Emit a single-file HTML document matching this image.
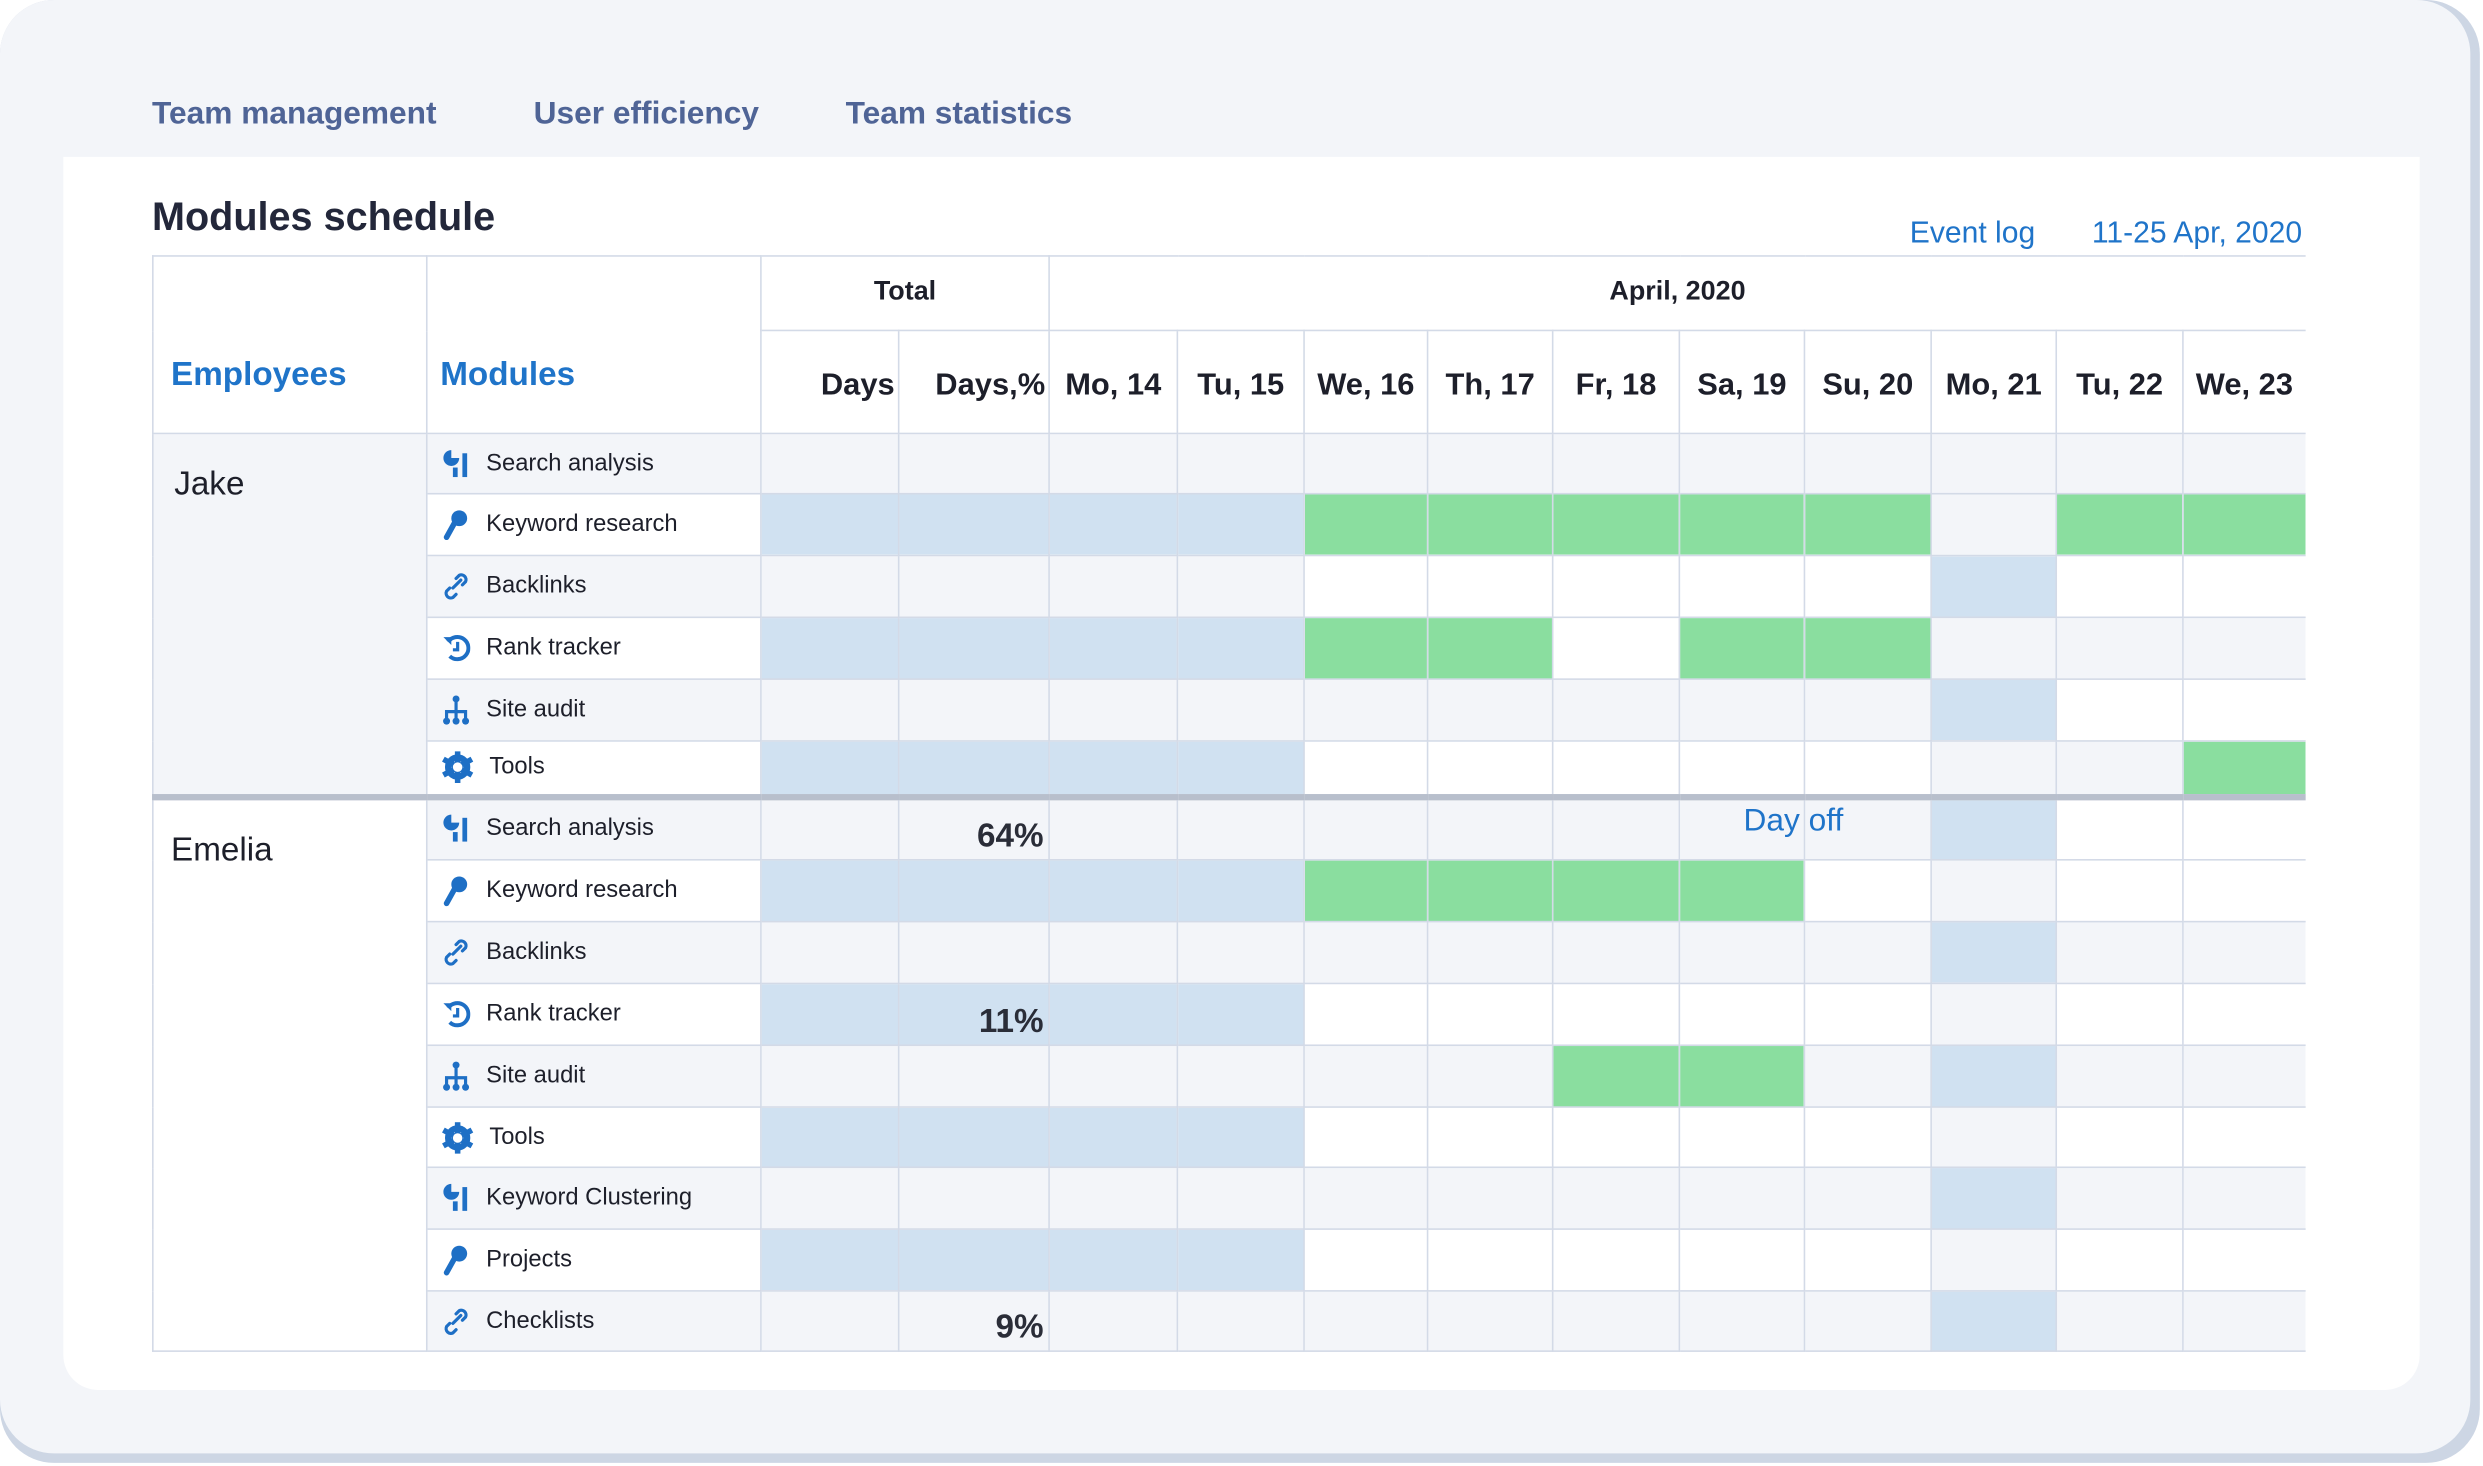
<!DOCTYPE html>
<html><head><meta charset="utf-8"><style>
html,body{margin:0;padding:0;background:#fff;}
body{width:2483px;height:1466px;overflow:hidden;font-family:"Liberation Sans",sans-serif;}
#s{position:absolute;left:0;top:0;width:1568px;height:925px;transform:scale(1.58355,1.5849);transform-origin:0 0;}
.outer{position:absolute;left:0;top:0;width:1566px;height:923px;border-radius:34px;background:#cdd6e4;}
.card{position:absolute;left:0;top:0;width:1560px;height:917px;border-radius:34px;background:#f3f5f9;}
.panel{position:absolute;left:40px;top:99px;width:1488px;height:778px;background:#fff;border-radius:0 0 22px 22px;}
.tab{position:absolute;top:61px;font-size:20px;color:#4f6496;font-weight:bold;}
.title{position:absolute;left:96px;top:123px;font-size:25px;color:#23273a;font-weight:bold;}
.lnk{position:absolute;top:137px;font-size:19px;color:#1f74c9;}
table{position:absolute;left:96px;top:161px;border-collapse:collapse;table-layout:fixed;width:1359px;}
td{border:1px solid #d3dae7;padding:0;font-size:15px;color:#1d1f2a;overflow:hidden;white-space:nowrap;}
.g{background:#f3f5f9}.b{background:#d0e1f1}.G{background:#8ade9f}.w{background:#fff}
.hd{font-size:19.5px;font-weight:bold;text-align:center;vertical-align:bottom;padding-bottom:18px;}
.m{padding-left:9px;}
.m svg{vertical-align:middle;margin-right:10px;}
.p{text-align:right;font-size:21px;font-weight:bold;color:#2a2d38;padding-right:3px;vertical-align:bottom;padding-bottom:2px}
.sep td{border-top:4px solid #b8bfcc;}
</style></head><body><div id="s">
<div class="outer"></div><div class="card"></div>
<div class="panel"></div>
<div class="tab" style="left:96px">Team management</div>
<div class="tab" style="left:337px">User efficiency</div>
<div class="tab" style="left:534px">Team statistics</div>
<div class="title">Modules schedule</div>
<div class="lnk" style="left:1206px">Event log</div>
<div class="lnk" style="left:1321px">11-25 Apr, 2020</div>
<table>
<colgroup><col style="width:173px"><col style="width:211px"><col style="width:87px"><col style="width:95px"><col style="width:81px"><col style="width:80px"><col style="width:78px"><col style="width:79px"><col style="width:80px"><col style="width:79px"><col style="width:80px"><col style="width:79px"><col style="width:80px"><col style="width:77px"></colgroup>
<tr style="height:47px"><td rowspan="2" class="w" style="vertical-align:bottom;padding:0 0 24px 11px;font-size:21px;font-weight:bold;color:#1f74c9">Employees</td><td rowspan="2" class="w" style="vertical-align:bottom;padding:0 0 24px 8px;font-size:21px;font-weight:bold;color:#1f74c9">Modules</td><td colspan="2" class="w" style="text-align:center;font-size:17px;font-weight:bold;padding-bottom:2px">Total</td><td colspan="10" class="w" style="text-align:center;font-size:17px;font-weight:bold;border-right:none;padding-bottom:2px">April, 2020</td></tr>
<tr style="height:65px"><td class="w hd" style="text-align:right;padding-right:2px">Days</td><td class="w hd" style="text-align:right;padding-right:2px">Days,%</td><td class="w hd">Mo, 14</td><td class="w hd">Tu, 15</td><td class="w hd">We, 16</td><td class="w hd">Th, 17</td><td class="w hd">Fr, 18</td><td class="w hd">Sa, 19</td><td class="w hd">Su, 20</td><td class="w hd">Mo, 21</td><td class="w hd">Tu, 22</td><td class="w hd" style="border-right:none">We, 23</td></tr>

<tr style="height:38px"><td rowspan="6" class="g" style="vertical-align:top;padding:20px 0 0 13px;font-size:21px">Jake</td><td class="g m"><svg width="18" height="20" viewBox="0 0 18 20"><path d="M6 1a5 5 0 1 0 5 5H6z" fill="#1e6fc5"/><rect x="7" y="12" width="3" height="6" fill="#1e6fc5"/><rect x="13" y="3" width="3" height="15" fill="#1e6fc5"/></svg>Search analysis</td><td class="g"></td><td class="g"></td><td class="g"></td><td class="g"></td><td class="g"></td><td class="g"></td><td class="g"></td><td class="g"></td><td class="g"></td><td class="g"></td><td class="g"></td><td class="g" style="border-right:none"></td></tr>
<tr style="height:39px"><td class="w m"><svg width="18" height="20" viewBox="0 0 18 20"><circle cx="11" cy="6" r="5" fill="#1e6fc5"/><path d="M8 9L3 18" stroke="#1e6fc5" stroke-width="3.5" stroke-linecap="round"/></svg>Keyword research</td><td class="b"></td><td class="b"></td><td class="b"></td><td class="b"></td><td class="G"></td><td class="G"></td><td class="G"></td><td class="G"></td><td class="G"></td><td class="g"></td><td class="G"></td><td class="G" style="border-right:none"></td></tr>
<tr style="height:39px"><td class="g m"><svg width="18" height="20" viewBox="0 0 18 20"><path d="M7 11l5-5M9 5l2-2a3 3 0 0 1 4 4l-2 2M9 15l-2 2a3 3 0 0 1-4-4l2-2" stroke="#1e6fc5" stroke-width="2" fill="none" stroke-linecap="round"/></svg>Backlinks</td><td class="g"></td><td class="g"></td><td class="g"></td><td class="g"></td><td class="w"></td><td class="w"></td><td class="w"></td><td class="w"></td><td class="w"></td><td class="b"></td><td class="w"></td><td class="w" style="border-right:none"></td></tr>
<tr style="height:39px"><td class="w m"><svg width="18" height="20" viewBox="0 0 18 20"><path d="M4 6a7 7 0 1 1 1 9" stroke="#1e6fc5" stroke-width="2.5" fill="none"/><path d="M1 3l5 0 0 5z" fill="#1e6fc5"/><path d="M10 6v5H7" stroke="#1e6fc5" stroke-width="2" fill="none"/></svg>Rank tracker</td><td class="b"></td><td class="b"></td><td class="b"></td><td class="b"></td><td class="G"></td><td class="G"></td><td class="w"></td><td class="G"></td><td class="G"></td><td class="g"></td><td class="g"></td><td class="g" style="border-right:none"></td></tr>
<tr style="height:39px"><td class="g m"><svg width="18" height="20" viewBox="0 0 18 20"><circle cx="9" cy="3" r="2.2" fill="#1e6fc5"/><path d="M9 3v13M3 16v-5h12v5" stroke="#1e6fc5" stroke-width="2" fill="none"/><circle cx="3" cy="17" r="2.2" fill="#1e6fc5"/><circle cx="9" cy="17" r="2.2" fill="#1e6fc5"/><circle cx="15" cy="17" r="2.2" fill="#1e6fc5"/></svg>Site audit</td><td class="g"></td><td class="g"></td><td class="g"></td><td class="g"></td><td class="g"></td><td class="g"></td><td class="g"></td><td class="g"></td><td class="g"></td><td class="b"></td><td class="w"></td><td class="w" style="border-right:none"></td></tr>
<tr style="height:35px"><td class="w m"><svg width="20" height="20" viewBox="0 0 20 20"><circle cx="10" cy="10" r="6" fill="none" stroke="#1e6fc5" stroke-width="4"/><path d="M10 0v20M1 5l18 10M1 15l18-10" stroke="#1e6fc5" stroke-width="3.5"/><circle cx="10" cy="10" r="3" fill="#fff"/></svg>Tools</td><td class="b"></td><td class="b"></td><td class="b"></td><td class="b"></td><td class="w"></td><td class="w"></td><td class="w"></td><td class="w"></td><td class="w"></td><td class="g"></td><td class="g"></td><td class="G" style="border-right:none"></td></tr>

<tr style="height:40px" class="sep"><td rowspan="9" class="w" style="vertical-align:top;padding:20px 0 0 11px;font-size:21px">Emelia</td><td class="g m"><svg width="18" height="20" viewBox="0 0 18 20"><path d="M6 1a5 5 0 1 0 5 5H6z" fill="#1e6fc5"/><rect x="7" y="12" width="3" height="6" fill="#1e6fc5"/><rect x="13" y="3" width="3" height="15" fill="#1e6fc5"/></svg>Search analysis</td><td class="g"></td><td class="g p">64%</td><td class="g"></td><td class="g"></td><td class="g"></td><td class="g"></td><td class="g"></td><td class="g" style="overflow:visible;position:relative"><span style="position:absolute;left:40px;top:2px;font-size:20px;color:#1f74c9;z-index:2">Day off</span></td><td class="g"></td><td class="b"></td><td class="w"></td><td class="w" style="border-right:none"></td></tr>
<tr style="height:39px"><td class="w m"><svg width="18" height="20" viewBox="0 0 18 20"><circle cx="11" cy="6" r="5" fill="#1e6fc5"/><path d="M8 9L3 18" stroke="#1e6fc5" stroke-width="3.5" stroke-linecap="round"/></svg>Keyword research</td><td class="b"></td><td class="b"></td><td class="b"></td><td class="b"></td><td class="G"></td><td class="G"></td><td class="G"></td><td class="G"></td><td class="w"></td><td class="g"></td><td class="w"></td><td class="w" style="border-right:none"></td></tr>
<tr style="height:39px"><td class="g m"><svg width="18" height="20" viewBox="0 0 18 20"><path d="M7 11l5-5M9 5l2-2a3 3 0 0 1 4 4l-2 2M9 15l-2 2a3 3 0 0 1-4-4l2-2" stroke="#1e6fc5" stroke-width="2" fill="none" stroke-linecap="round"/></svg>Backlinks</td><td class="g"></td><td class="g"></td><td class="g"></td><td class="g"></td><td class="g"></td><td class="g"></td><td class="g"></td><td class="g"></td><td class="g"></td><td class="b"></td><td class="g"></td><td class="g" style="border-right:none"></td></tr>
<tr style="height:39px"><td class="w m"><svg width="18" height="20" viewBox="0 0 18 20"><path d="M4 6a7 7 0 1 1 1 9" stroke="#1e6fc5" stroke-width="2.5" fill="none"/><path d="M1 3l5 0 0 5z" fill="#1e6fc5"/><path d="M10 6v5H7" stroke="#1e6fc5" stroke-width="2" fill="none"/></svg>Rank tracker</td><td class="b"></td><td class="b p">11%</td><td class="b"></td><td class="b"></td><td class="w"></td><td class="w"></td><td class="w"></td><td class="w"></td><td class="w"></td><td class="g"></td><td class="w"></td><td class="w" style="border-right:none"></td></tr>
<tr style="height:39px"><td class="g m"><svg width="18" height="20" viewBox="0 0 18 20"><circle cx="9" cy="3" r="2.2" fill="#1e6fc5"/><path d="M9 3v13M3 16v-5h12v5" stroke="#1e6fc5" stroke-width="2" fill="none"/><circle cx="3" cy="17" r="2.2" fill="#1e6fc5"/><circle cx="9" cy="17" r="2.2" fill="#1e6fc5"/><circle cx="15" cy="17" r="2.2" fill="#1e6fc5"/></svg>Site audit</td><td class="g"></td><td class="g"></td><td class="g"></td><td class="g"></td><td class="g"></td><td class="g"></td><td class="G"></td><td class="G"></td><td class="g"></td><td class="b"></td><td class="g"></td><td class="g" style="border-right:none"></td></tr>
<tr style="height:38px"><td class="w m"><svg width="20" height="20" viewBox="0 0 20 20"><circle cx="10" cy="10" r="6" fill="none" stroke="#1e6fc5" stroke-width="4"/><path d="M10 0v20M1 5l18 10M1 15l18-10" stroke="#1e6fc5" stroke-width="3.5"/><circle cx="10" cy="10" r="3" fill="#fff"/></svg>Tools</td><td class="b"></td><td class="b"></td><td class="b"></td><td class="b"></td><td class="w"></td><td class="w"></td><td class="w"></td><td class="w"></td><td class="w"></td><td class="g"></td><td class="w"></td><td class="w" style="border-right:none"></td></tr>
<tr style="height:39px"><td class="g m"><svg width="18" height="20" viewBox="0 0 18 20"><path d="M6 1a5 5 0 1 0 5 5H6z" fill="#1e6fc5"/><rect x="7" y="12" width="3" height="6" fill="#1e6fc5"/><rect x="13" y="3" width="3" height="15" fill="#1e6fc5"/></svg>Keyword Clustering</td><td class="g"></td><td class="g"></td><td class="g"></td><td class="g"></td><td class="g"></td><td class="g"></td><td class="g"></td><td class="g"></td><td class="g"></td><td class="b"></td><td class="g"></td><td class="g" style="border-right:none"></td></tr>
<tr style="height:39px"><td class="w m"><svg width="18" height="20" viewBox="0 0 18 20"><circle cx="11" cy="6" r="5" fill="#1e6fc5"/><path d="M8 9L3 18" stroke="#1e6fc5" stroke-width="3.5" stroke-linecap="round"/></svg>Projects</td><td class="b"></td><td class="b"></td><td class="b"></td><td class="b"></td><td class="w"></td><td class="w"></td><td class="w"></td><td class="w"></td><td class="w"></td><td class="g"></td><td class="w"></td><td class="w" style="border-right:none"></td></tr>
<tr style="height:38px"><td class="g m"><svg width="18" height="20" viewBox="0 0 18 20"><path d="M7 11l5-5M9 5l2-2a3 3 0 0 1 4 4l-2 2M9 15l-2 2a3 3 0 0 1-4-4l2-2" stroke="#1e6fc5" stroke-width="2" fill="none" stroke-linecap="round"/></svg>Checklists</td><td class="g"></td><td class="g p">9%</td><td class="g"></td><td class="g"></td><td class="g"></td><td class="g"></td><td class="g"></td><td class="g"></td><td class="g"></td><td class="b"></td><td class="g"></td><td class="g" style="border-right:none"></td></tr>
</table>
</div></body></html>
